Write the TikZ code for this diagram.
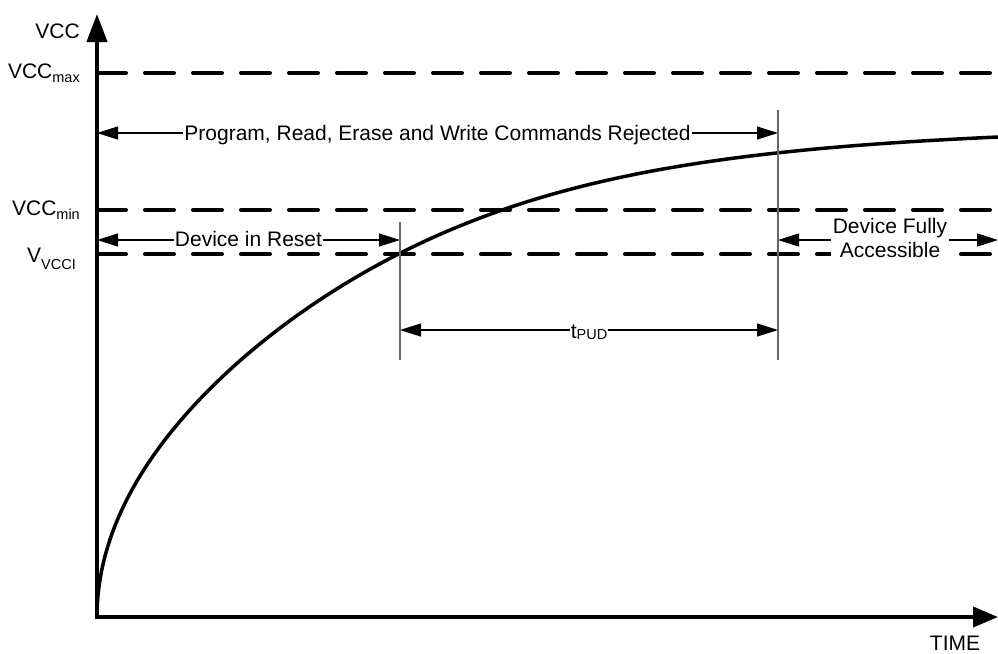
\documentclass[tikz,border=0pt]{standalone}
\usepackage{fontspec}
\setmainfont{Liberation Sans}
\usetikzlibrary{arrows.meta}
\newcommand\subtxt[2][4pt]{\raisebox{-#1}{\fontsize{14.5}{14.5}\selectfont #2}}
\begin{document}
\begin{tikzpicture}[x=1pt,y=-1pt,
  lbl/.style={font=\fontsize{21}{24}\selectfont, inner sep=0pt},
  dimtxt/.style={lbl, inner sep=1pt},
  dimarrow/.style={line width=1.2pt, -{Triangle[length=21pt,width=13pt]}},
  thresh/.style={line width=4pt, dash pattern=on 29pt off 19pt, line cap=round},
  axisline/.style={line width=4pt, line join=miter, {Triangle[length=28pt,width=20pt]}-{Triangle[length=25pt,width=20pt]}},
  curveline/.style={line width=3.5pt, line join=round},
  guide/.style={line width=1.2pt, black!60}]
\useasboundingbox (0,0) rectangle (998,653);
% coordinates
\coordinate (O) at (97,617);
\coordinate (ytip) at (97,14);
\coordinate (xtip) at (998,617);
\coordinate (mx0) at (97,73);   \coordinate (mx1) at (998,73);
\coordinate (mn0) at (97,210);  \coordinate (mn1) at (998,210);
\coordinate (vi0) at (97,254);  \coordinate (vi1) at (998,254);
\coordinate (ga1) at (400,222); \coordinate (ga2) at (400,360);
\coordinate (gb1) at (778,110); \coordinate (gb2) at (778,360);
% threshold lines
\draw[thresh] (mx0) -- (mx1);
\draw[thresh] (mn0) -- (mn1);
\draw[thresh] (vi0) -- (vi1);
% axes
\draw[axisline] (ytip) -- (O) -- (xtip);
% curve: VCC ramp
\draw[curveline] plot[domain=0:30.017, samples=160, smooth]
  ({97+\x*\x}, {617-495*(\x/23.02)/((1+(\x/23.02)^6)^(1/6))});
% guide lines
\draw[guide] (ga1) -- (ga2);
\draw[guide] (gb1) -- (gb2);
% axis labels
\node[lbl, anchor=base east] (lvcc) at (80,38) {VCC};
\node[lbl, anchor=base east] (lmax) at (80,78) {VCC\subtxt{max}};
\node[lbl, anchor=base east] (lmin) at (80,215) {VCC\subtxt{min}};
\node[lbl, anchor=base east] (lvcci) at (76,262) {V\subtxt[7pt]{VCCI}};
\node[lbl, anchor=base] (ltime) at (955,650) {TIME};
% dimension: commands rejected
\coordinate (p1) at (97,133); \coordinate (p2) at (778,133);
\node[dimtxt, anchor=base] (tprog) at (437.5,140) {Program, Read, Erase and Write Commands Rejected};
\draw[dimarrow] (tprog.west |- p1) -- (p1);
\draw[dimarrow] (tprog.east |- p2) -- (p2);
% dimension: reset
\coordinate (r1) at (97,240); \coordinate (r2) at (400,240);
\node[dimtxt, anchor=base] (treset) at (248.5,246) {Device in Reset};
\draw[dimarrow] (treset.west |- r1) -- (r1);
\draw[dimarrow] (treset.east |- r2) -- (r2);
% dimension: tPUD
\coordinate (u1) at (400,330); \coordinate (u2) at (778,330);
\node[dimtxt, anchor=base] (tpud) at (589,338) {t\subtxt[1pt]{PUD}};
\draw[dimarrow] (tpud.west |- u1) -- (u1);
\draw[dimarrow] (tpud.east |- u2) -- (u2);
% dimension: fully accessible
\coordinate (f1) at (778,240); \coordinate (f2) at (998,240);
\node[dimtxt, fill=white, align=center, inner sep=1.5pt] (tfull) at (890,237.5) {Device Fully\\Accessible};
\draw[dimarrow] (tfull.west |- f1) -- (f1);
\draw[dimarrow] (tfull.east |- f2) -- (f2);
\end{tikzpicture}
\end{document}
